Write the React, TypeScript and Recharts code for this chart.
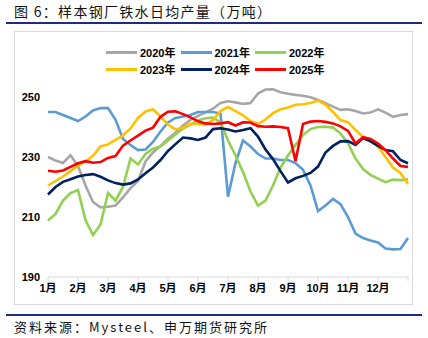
import React from "react";
import { LineChart, Line, XAxis, YAxis } from "recharts";

// weekly points, 4 per month (index 0..48)
const months = ["1月", "2月", "3月", "4月", "5月", "6月", "7月", "8月", "9月", "10月", "11月", "12月"];
const yTicks = [190, 210, 230, 250];

const s2020 = [230, 228.8, 228, 230.6, 227, 220.5, 215, 213.2, 213.4, 213.8, 216.5, 219.6, 222, 228.5, 231.5, 233.7, 236.1, 238.1, 240.5, 242.4, 243.7, 244.9, 246.1, 248, 248.6, 248.2, 247.7, 248, 251.2, 252.5, 252.6, 251.6, 251.1, 250.7, 250.4, 249.9, 249, 247.9, 246.8, 245.7, 245.9, 245.3, 244.5, 244.8, 245.9, 244.8, 243.4, 244, 244.3];
const s2021 = [245, 245, 244, 243, 242, 243.5, 245.5, 246.3, 246.3, 242.5, 236, 234, 232.3, 232.5, 235, 238.5, 241.5, 243, 243.5, 244, 245, 245, 245, 244.5, 216.8, 228, 235.5, 233.5, 231, 229.5, 229.5, 229, 229, 228, 225.7, 220.5, 212, 213.8, 216, 214.3, 210, 204.5, 203, 202.2, 201.5, 199.5, 199.2, 199.3, 203];
const s2022 = [208.8, 211, 215.5, 218, 219, 209, 204, 207.5, 218, 215.5, 220, 229.5, 227.5, 231, 232.8, 233.5, 235.5, 237.5, 239.5, 240.8, 242.2, 242.9, 243.1, 241.5, 235.5, 230.5, 225, 218.5, 213.8, 215.5, 220.5, 226.5, 230.5, 234, 237.3, 239.3, 240, 240.1, 239.8, 237.8, 234.6, 229.5, 226, 224, 222.8, 221.6, 222.5, 222.3, 222.6];
const s2023 = [220.5, 222, 223.5, 225.3, 227.1, 228.6, 230.4, 233.5, 234.2, 235.7, 237.2, 239.5, 243, 245.2, 245.9, 243.5, 240.8, 239.2, 239.8, 241.1, 241, 240.8, 242.3, 245.3, 246.7, 245.3, 243.9, 242, 241, 242.5, 244.6, 245.9, 246.5, 247.4, 247.6, 248, 248.8, 247.5, 245, 242.3, 241.6, 239, 236.7, 235.4, 233.5, 230, 226.5, 224.7, 221];
const s2024 = [217.5, 220, 221.7, 222.6, 223.5, 224, 224.3, 223.4, 222.2, 221.3, 220.8, 221.2, 222.5, 224.6, 226.5, 229, 232, 234.3, 236.5, 236.2, 235.7, 236.5, 239.3, 239.6, 239.2, 238.5, 239, 239.6, 236.8, 232.5, 229.3, 225.3, 221.5, 222.9, 223.7, 224.7, 226.8, 231.5, 233.7, 235.2, 235.3, 234, 236.3, 235.2, 233.7, 232.3, 231.9, 229, 227.9];
const s2025 = [225.4, 225.1, 225.5, 226.7, 227.9, 228.6, 228.1, 228.3, 229.7, 230.3, 233.8, 235.5, 237.1, 238.8, 239.8, 243.4, 245.1, 245.2, 244.3, 243.2, 241.9, 241.2, 241, 241.2, 241.6, 240.5, 241.6, 241.5, 240.3, 240.1, 240.2, 240, 239.6, 228.6, 241, 241.8, 242, 241.7, 241.2, 240.2, 238.7, 234.5, 236.6, 236, 234.5, 232.3, 229.5, 227, 226.7];

const series = [
  { key: "y2020", name: "2020年", color: "#a6a6a6", values: s2020 },
  { key: "y2021", name: "2021年", color: "#5b9bd5", values: s2021 },
  { key: "y2022", name: "2022年", color: "#92d050", values: s2022 },
  { key: "y2023", name: "2023年", color: "#ffc000", values: s2023 },
  { key: "y2024", name: "2024年", color: "#002060", values: s2024 },
  { key: "y2025", name: "2025年", color: "#ff0000", values: s2025 },
];

const data = s2020.map((_, i) => {
  const row: Record<string, number> = { i };
  series.forEach((s) => {
    row[s.key] = s.values[i];
  });
  return row;
});

const xTicks = months.map((_, m) => m * 4).concat([48]);
const axisFont = { fontSize: 11, fontWeight: 700, fill: "#000", fontFamily: "'Liberation Sans', 'Noto Sans CJK SC', sans-serif" };

export default function App() {
  return (
    <div style={{ position: "fixed", left: 0, top: 0, width: 428, height: 338, background: "#fff", fontFamily: "'Noto Sans CJK SC', sans-serif" }}>
      {/* title */}
      <div style={{ position: "absolute", left: 14, top: 2, fontSize: 14, letterSpacing: 1.3, color: "#111", lineHeight: "18px" }}>
        图 6：样本钢厂铁水日均产量（万吨）
      </div>
      <div style={{ position: "absolute", left: 6, top: 22, width: 416, height: 2, background: "#1f2a80" }} />

      {/* chart box */}
      <div style={{ position: "absolute", left: 14, top: 31, width: 399, height: 274, border: "1px solid #d9d9d9", boxSizing: "border-box" }} />

      {/* legend */}
      {series.map((s, idx) => {
        const col = idx % 3;
        const row = Math.floor(idx / 3);
        const left = 106 + col * 74.5;
        const top = row === 0 ? 52 : 69;
        return (
          <div key={s.key} style={{ position: "absolute", left, top: top - 8, height: 16, display: "flex", alignItems: "center" }}>
            <div style={{ width: 31, height: 3, background: s.color, marginRight: 3 }} />
            <span style={{ fontSize: 11, fontWeight: 700, fontFamily: "'Liberation Sans', 'Noto Sans CJK SC', sans-serif", color: "#000" }}>{s.name}</span>
          </div>
        );
      })}

      <div style={{ position: "absolute", left: 0, top: 0 }}>
        <LineChart width={428} height={338} data={data} margin={{ top: 67, right: 20, bottom: 31, left: 8 }}>
          <XAxis
            dataKey="i"
            type="number"
            domain={[0, 48]}
            ticks={xTicks}
            tickFormatter={(v: number) => months[v / 4] ?? ""}
            interval={0}
            height={30}
            stroke="#d9d9d9"
            tickSize={4}
            tickMargin={3}
            tick={axisFont}
          />
          <YAxis
            type="number"
            domain={[190, 260]}
            ticks={yTicks}
            width={40}
            axisLine={false}
            tickLine={false}
            tickSize={0}
            tickMargin={8}
            tick={axisFont}
          />
          {series.map((s) => (
            <Line
              key={s.key}
              type="linear"
              dataKey={s.key}
              name={s.name}
              stroke={s.color}
              strokeWidth={2.6}
              dot={false}
              isAnimationActive={false}
            />
          ))}
        </LineChart>
      </div>

      {/* source */}
      <div style={{ position: "absolute", left: 6, top: 314, width: 416, height: 2, background: "#1f2a80" }} />
      <div style={{ position: "absolute", left: 14, top: 318, fontSize: 13, letterSpacing: 2, color: "#111", lineHeight: "17px" }}>
        资料来源：Mysteel、申万期货研究所
      </div>
    </div>
  );
}
